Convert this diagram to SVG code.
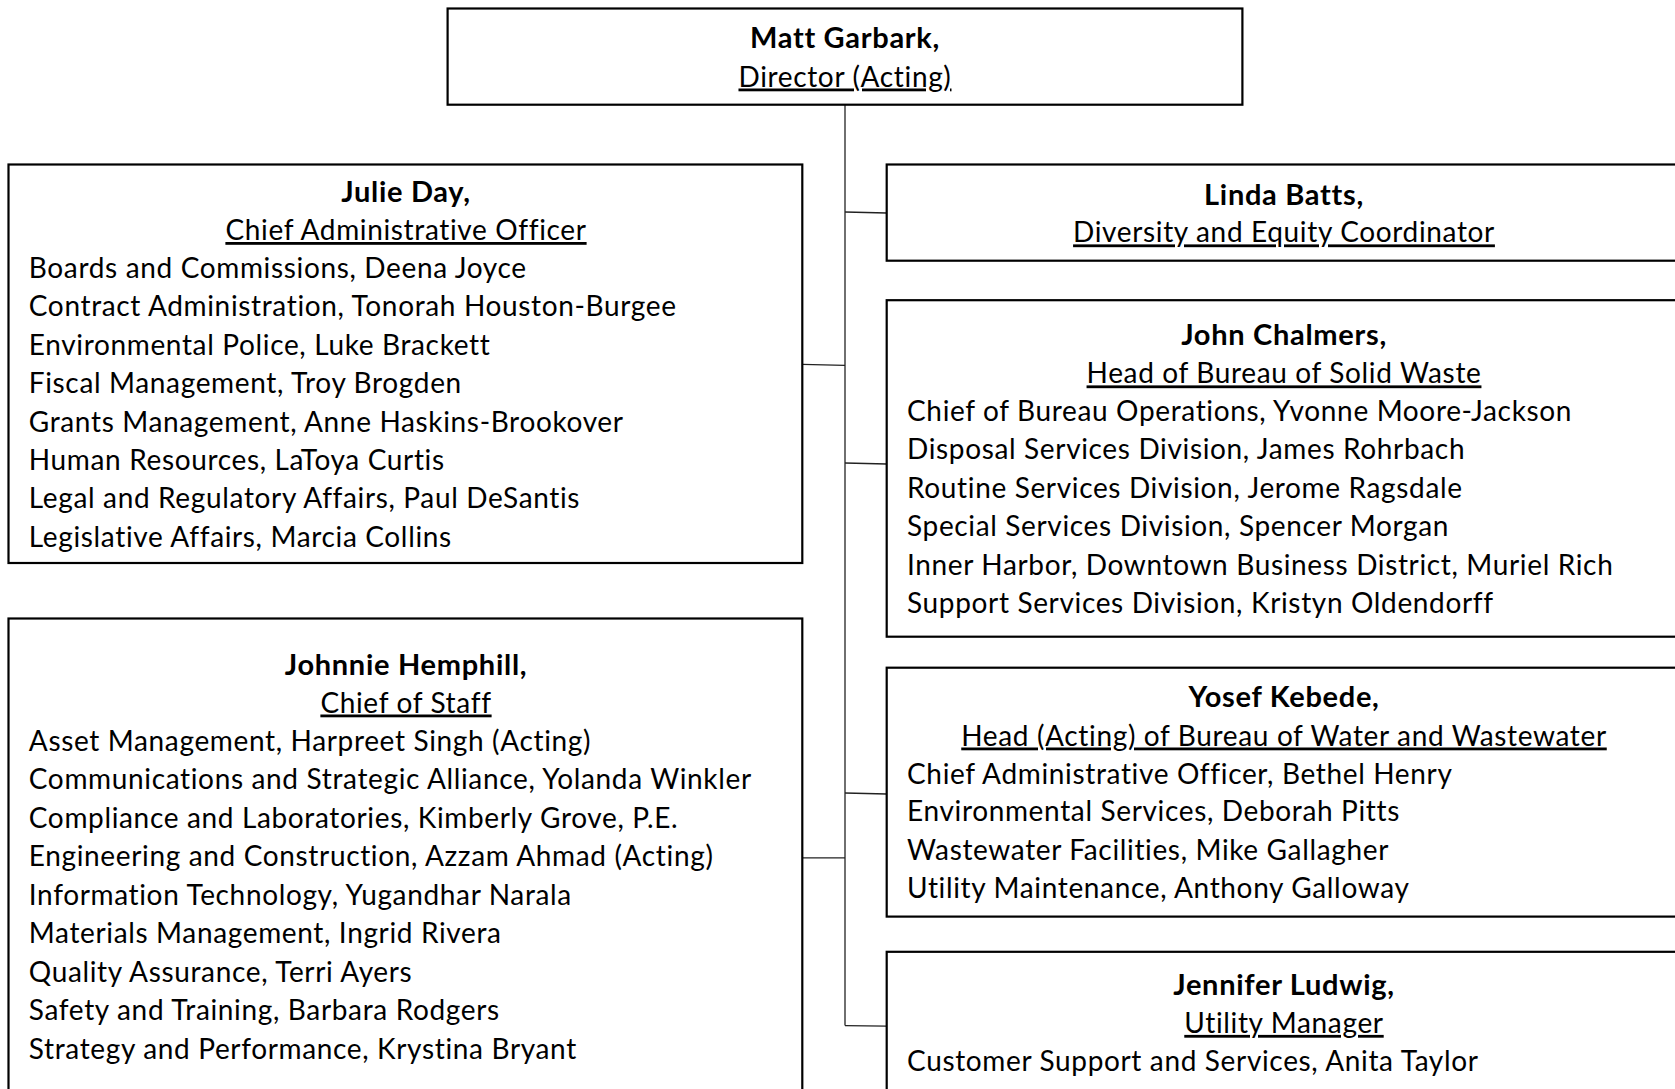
<svg xmlns="http://www.w3.org/2000/svg" width="1675" height="1089" viewBox="0 0 1675 1089">
<style>
.box{fill:#fff;stroke:#000;stroke-width:2.2}
.con{stroke:#222;stroke-width:1.3;fill:none}
text{font-family:Lato,"Liberation Sans",sans-serif;font-size:28px;letter-spacing:0.65px;fill:#000}
.t{font-weight:bold;text-anchor:middle;font-size:29px;letter-spacing:0.7px}
.r{text-anchor:middle;text-decoration:underline}
</style>
<rect width="1675" height="1089" fill="#fff"/>
<g id="connectors">
<line class="con" x1="845" y1="104.7" x2="845" y2="1025.6"/>
<line class="con" x1="802.3" y1="364.3" x2="845" y2="365.3"/>
<line class="con" x1="802.3" y1="857.8" x2="845" y2="857.8"/>
<line class="con" x1="845" y1="212" x2="886.7" y2="213"/>
<line class="con" x1="845" y1="463" x2="886.7" y2="464"/>
<line class="con" x1="845" y1="793" x2="886.7" y2="794"/>
<line class="con" x1="845" y1="1025.6" x2="886.7" y2="1026.2"/>
</g>
<g id="director">
<rect class="box" x="447.6" y="8.5" width="794.8" height="96.2"/>
<text class="t" x="845" y="48">Matt Garbark,</text>
<text class="r" x="845" y="86.5">Director (Acting)</text>
</g>
<g id="julie-day">
<rect class="box" x="8.5" y="164.5" width="793.8" height="398.5"/>
<text class="t" x="406" y="201.5">Julie Day,</text>
<text class="r" x="406" y="240">Chief Administrative Officer</text>
<text x="28.8" y="277.6">Boards and Commissions, Deena Joyce</text>
<text x="28.8" y="316.1">Contract Administration, Tonorah Houston-Burgee</text>
<text x="28.8" y="354.5">Environmental Police, Luke Brackett</text>
<text x="28.8" y="393">Fiscal Management, Troy Brogden</text>
<text x="28.8" y="431.5">Grants Management, Anne Haskins-Brookover</text>
<text x="28.8" y="469.9">Human Resources, LaToya Curtis</text>
<text x="28.8" y="508.4">Legal and Regulatory Affairs, Paul DeSantis</text>
<text x="28.8" y="546.9">Legislative Affairs, Marcia Collins</text>
</g>
<g id="johnnie-hemphill">
<rect class="box" x="8.5" y="618.5" width="793.8" height="500"/>
<text class="t" x="406" y="675">Johnnie Hemphill,</text>
<text class="r" x="406" y="712.5">Chief of Staff</text>
<text x="28.8" y="750.9">Asset Management, Harpreet Singh (Acting)</text>
<text x="28.8" y="789.4">Communications and Strategic Alliance, Yolanda Winkler</text>
<text x="28.8" y="827.8">Compliance and Laboratories, Kimberly Grove, P.E.</text>
<text x="28.8" y="866.3">Engineering and Construction, Azzam Ahmad (Acting)</text>
<text x="28.8" y="904.7">Information Technology, Yugandhar Narala</text>
<text x="28.8" y="943.2">Materials Management, Ingrid Rivera</text>
<text x="28.8" y="981.6">Quality Assurance, Terri Ayers</text>
<text x="28.8" y="1020.1">Safety and Training, Barbara Rodgers</text>
<text x="28.8" y="1058.5">Strategy and Performance, Krystina Bryant</text>
</g>
<g id="linda-batts">
<rect class="box" x="886.7" y="164.5" width="820" height="96.2"/>
<text class="t" x="1284" y="205">Linda Batts,</text>
<text class="r" x="1284" y="242.4">Diversity and Equity Coordinator</text>
</g>
<g id="john-chalmers">
<rect class="box" x="886.7" y="300.2" width="820" height="336.5"/>
<text class="t" x="1284" y="344.9">John Chalmers,</text>
<text class="r" x="1284" y="383.4">Head of Bureau of Solid Waste</text>
<text x="907" y="420.8">Chief of Bureau Operations, Yvonne Moore-Jackson</text>
<text x="907" y="459.3">Disposal Services Division, James Rohrbach</text>
<text x="907" y="497.7">Routine Services Division, Jerome Ragsdale</text>
<text x="907" y="536.2">Special Services Division, Spencer Morgan</text>
<text x="907" y="574.6">Inner Harbor, Downtown Business District, Muriel Rich</text>
<text x="907" y="613.1">Support Services Division, Kristyn Oldendorff</text>
</g>
<g id="yosef-kebede">
<rect class="box" x="886.7" y="667.7" width="820" height="248.9"/>
<text class="t" x="1284" y="707.1">Yosef Kebede,</text>
<text class="r" x="1284" y="745.5">Head (Acting) of Bureau of Water and Wastewater</text>
<text x="907" y="784">Chief Administrative Officer, Bethel Henry</text>
<text x="907" y="821.4">Environmental Services, Deborah Pitts</text>
<text x="907" y="859.9">Wastewater Facilities, Mike Gallagher</text>
<text x="907" y="898.3">Utility Maintenance, Anthony Galloway</text>
</g>
<g id="jennifer-ludwig">
<rect class="box" x="886.7" y="951.8" width="820" height="200"/>
<text class="t" x="1284" y="994.5">Jennifer Ludwig,</text>
<text class="r" x="1284" y="1032.9">Utility Manager</text>
<text x="907" y="1071.4">Customer Support and Services, Anita Taylor</text>
</g>
</svg>
